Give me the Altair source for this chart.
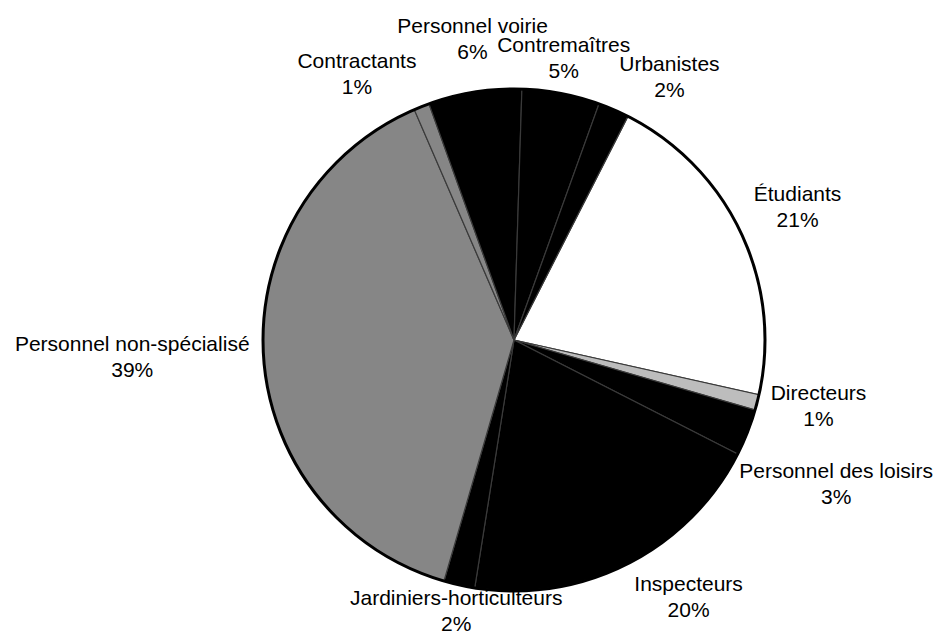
import math
import altair as alt
import pandas as pd

# ---- data ----
categories = ["Étudiants", "Directeurs", "Personnel des loisirs", "Inspecteurs",
              "Jardiniers-horticulteurs", "Personnel non-spécialisé", "Contractants",
              "Personnel voirie", "Contremaîtres", "Urbanistes"]
shares = [21, 1, 3, 20, 2, 39, 1, 6, 5, 2]
fills = ["#ffffff", "#bdbdbd", "#000000", "#000000", "#000000",
         "#868686", "#868686", "#000000", "#000000", "#000000"]

# ---- layout ----
W, H = 926, 628
CX, CY = 506, 332
R_PIE = 251
START_DEG = 27.0
R_LAB = 265
FS = 21
LINE = 26
CAP = 15
GAP = 4
R_CLEAR = R_PIE + 5
BOTTOM_PAD = 5

# Arial / Liberation Sans advance widths (1/1000 em)
AW = {" ": 278, "%": 889, "-": 333, "C": 722, "D": 722, "I": 278, "J": 500, "P": 667,
      "U": 722, "É": 667, "a": 556, "b": 556, "c": 500, "d": 556, "e": 556, "é": 556,
      "h": 556, "i": 222, "î": 278, "l": 222, "m": 833, "n": 556, "o": 556, "p": 556,
      "r": 333, "s": 500, "t": 278, "u": 556, "v": 500}


def text_w(s):
    return sum(AW.get(ch, 556) for ch in s) * FS / 1000.0


start = math.radians(START_DEG)
total = sum(shares)
boxes = []
cum = 0.0
for name, v in zip(categories, shares):
    mid = start + 2 * math.pi * (cum + v / 2) / total
    cum += v
    s, c = math.sin(mid), math.cos(mid)
    ax, ay = CX + R_LAB * s, CY - R_LAB * c
    pct = f"{v}%"
    wn, wp = text_w(name), text_w(pct)
    w = max(wn, wp)
    h = CAP + LINE
    if s > 0.35:
        left = ax
    elif s < -0.35:
        left = ax - w
    else:
        left = ax - w / 2
    if c > 0.35:
        top = ay - h
    elif c < -0.35:
        top = ay
    else:
        top = ay - h / 2
    boxes.append({"name": name, "pct": pct, "left": left, "top": top,
                  "w": w, "wn": wn, "wp": wp, "h": h})


def line_rects(b):
    xc = b["left"] + b["w"] / 2
    return [(xc - b["wn"] / 2, b["top"], xc + b["wn"] / 2, b["top"] + CAP),
            (xc - b["wp"] / 2, b["top"] + LINE, xc + b["wp"] / 2, b["top"] + LINE + CAP)]


def overlap(a, b):
    best = None
    for ra in line_rects(a):
        for rb in line_rects(b):
            ox = min(ra[2], rb[2]) - max(ra[0], rb[0]) + GAP
            oy = min(ra[3], rb[3]) - max(ra[1], rb[1]) + GAP
            if ox > 0 and oy > 0:
                m = min(ox, oy)
                if best is None or m > min(best):
                    best = (ox, oy)
    return best


def clamp(b):
    b["left"] = min(max(b["left"], 2), W - 1 - b["w"])
    b["top"] = min(max(b["top"], 2), H - BOTTOM_PAD - b["h"])


def resolve():
    for _ in range(30):
        moved = False
        for i in range(len(boxes)):
            for j in range(i + 1, len(boxes)):
                a, b = boxes[i], boxes[j]
                ov = overlap(a, b)
                if ov is None:
                    continue
                moved = True
                ox, oy = ov
                if oy <= ox:
                    up, dn = (a, b) if a["top"] <= b["top"] else (b, a)
                    cu, cd = up["top"] + up["h"] / 2, dn["top"] + dn["h"] / 2
                    if cu < CY and cd < CY:
                        m = min(oy, up["top"] - 2)
                        up["top"] -= m
                        dn["top"] += oy - m
                    elif cu > CY and cd > CY:
                        m = min(oy, H - BOTTOM_PAD - dn["h"] - dn["top"])
                        dn["top"] += m
                        up["top"] -= oy - m
                    else:
                        up["top"] -= oy / 2
                        dn["top"] += oy / 2
                else:
                    lf, rt = (a, b) if a["left"] <= b["left"] else (b, a)
                    cl, cr = lf["left"] + lf["w"] / 2, rt["left"] + rt["w"] / 2
                    if cl < CX and cr < CX:
                        m = min(ox, lf["left"] - 2)
                        lf["left"] -= m
                        rt["left"] += ox - m
                    elif cl > CX and cr > CX:
                        m = min(ox, W - 1 - rt["w"] - rt["left"])
                        rt["left"] += m
                        lf["left"] -= ox - m
                    else:
                        lf["left"] -= ox / 2
                        rt["left"] += ox / 2
                clamp(a)
                clamp(b)
        if not moved:
            break


def near_pie(b):
    for (x0, y0, x1, y1) in line_rects(b):
        nx = min(max(CX, x0), x1)
        ny = min(max(CY, y0), y1)
        if math.hypot(nx - CX, ny - CY) < R_CLEAR:
            return True
    return False


def avoid_pie():
    for b in boxes:
        step = -1 if b["top"] + b["h"] / 2 < CY else 1
        for _ in range(120):
            if not near_pie(b):
                break
            b["top"] += step
        clamp(b)


for b in boxes:
    clamp(b)
for _ in range(3):
    resolve()
    avoid_pie()

rows = []
for b in boxes:
    xc = b["left"] + b["w"] / 2
    rows.append({"t": b["name"], "x": xc, "y": b["top"] + CAP})
    rows.append({"t": b["pct"], "x": xc, "y": b["top"] + CAP + LINE})

pie_df = pd.DataFrame({"cat": categories, "share": shares, "idx": list(range(len(categories)))})
lab_df = pd.DataFrame(rows)

pie = alt.Chart(pie_df).mark_arc(
    outerRadius=R_PIE, stroke="#3a3a3a", strokeWidth=1.2
).encode(
    theta=alt.Theta("share:Q", stack=True,
                    scale=alt.Scale(range=[start, start + 2 * math.pi])),
    color=alt.Color("cat:N", scale=alt.Scale(domain=categories, range=fills), legend=None),
    order=alt.Order("idx:Q"),
    x=alt.value(CX),
    y=alt.value(CY),
)

rim = alt.Chart(pd.DataFrame({"k": [0]})).mark_arc(
    theta=0, theta2=2 * math.pi, outerRadius=R_PIE, filled=False,
    stroke="#000000", strokeWidth=3
).encode(x=alt.value(CX), y=alt.value(CY))

labels = alt.Chart(lab_df).mark_text(
    font="Liberation Sans", fontSize=FS, color="#000000", align="center", baseline="alphabetic"
).encode(
    x=alt.X("x:Q", scale=None),
    y=alt.Y("y:Q", scale=None),
    text="t:N",
)

chart = alt.layer(pie, rim, labels).properties(
    width=W, height=H, autosize=alt.AutoSizeParams(type="none"), padding=0
).configure_view(stroke=None)

chart.save("out.html", embed_options={"renderer": "svg", "actions": False})
